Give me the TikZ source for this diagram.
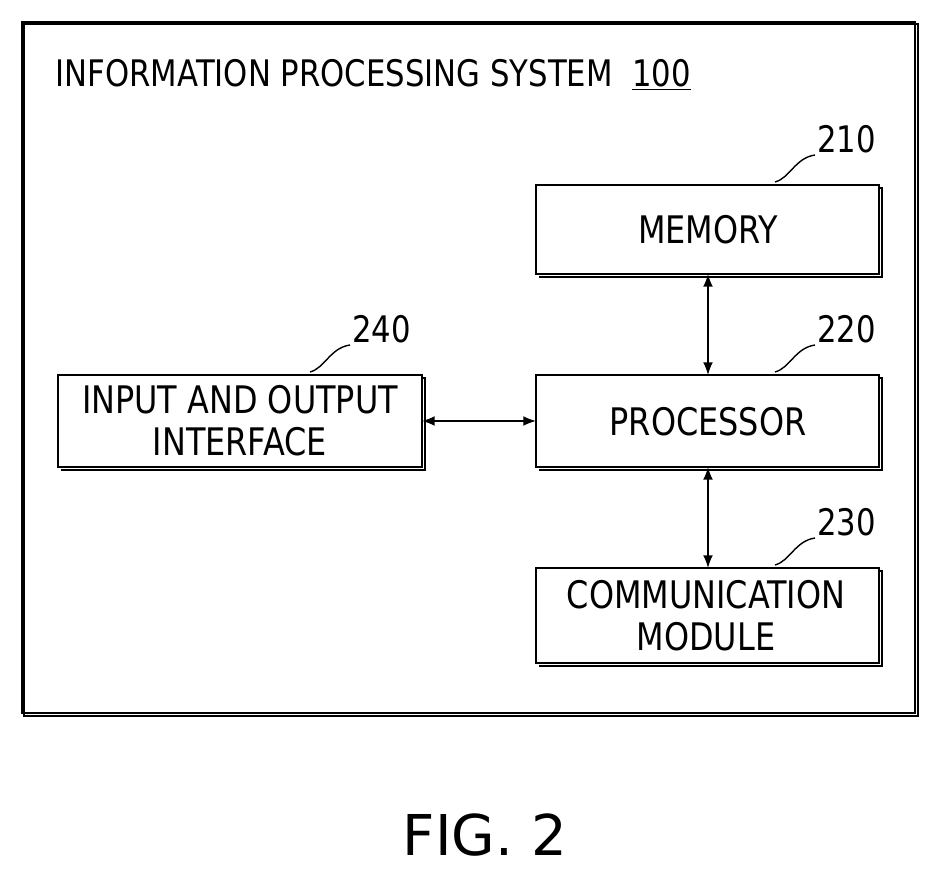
\documentclass[tikz,border=0pt]{standalone}
\usepackage{fontspec}
\usetikzlibrary{arrows.meta}
\setmainfont{DejaVu Sans}
\newfontfamily\narrowfont[FakeStretch=0.84]{DejaVu Sans}
\begin{document}
\begin{tikzpicture}[x=0.025cm, y=-0.025cm, line width=1.1pt,
  shad/.style={line width=2pt},
  lbl/.style={font=\narrowfont\fontsize{27}{30}\selectfont, align=center, inner sep=0pt},
  tag/.style={font=\narrowfont\fontsize{26}{26}\selectfont, anchor=south west, inner sep=1pt},
  lead/.style={line width=1pt}]
        % 背景与外框
        \useasboundingbox (0,0) rectangle (940,880);
        \draw[shad] (24,24) -- (918,24) -- (918,716) -- (24,716) -- cycle;
        \draw (22,22) rectangle (915,713);
        \node[anchor=west, font=\narrowfont\fontsize{26}{26}\selectfont, inner sep=0pt] (title) at (55,75)
          {INFORMATION PROCESSING SYSTEM\ \ \underline{100}};

        % 各模块
        \draw[shad] (539,188) -- (882,188) -- (882,277) -- (539,277);
        \draw[fill=white] (536,185) rectangle (879,274);
        \node[lbl] (mem) at (708,230) {MEMORY};
        \draw[shad] (539,378) -- (882,378) -- (882,470) -- (539,470);
        \draw[fill=white] (536,375) rectangle (879,467);
        \node[lbl] (proc) at (708,422) {PROCESSOR};
        \draw[shad] (539,571) -- (882,571) -- (882,666) -- (539,666);
        \draw[fill=white] (536,568) rectangle (879,663);
        \node[lbl] (comm) at (706,616) {COMMUNICATION\\MODULE};
        \draw[shad] (61,378) -- (425,378) -- (425,470) -- (61,470);
        \draw[fill=white] (58,375) rectangle (422,467);
        \node[lbl] (io) at (240,421) {INPUT AND OUTPUT\\INTERFACE};

        \coordinate (memB) at (708,274);
        \coordinate (procT) at (708,375);
        \coordinate (procB) at (708,467);
        \coordinate (commT) at (708,568);
        \coordinate (ioR) at (422,421);
        \coordinate (procL) at (536,421);

        % 连接
        \draw[{Latex[length=9pt,width=7pt]}-{Latex[length=9pt,width=7pt]}] (memB) -- (procT);
        \draw[{Latex[length=9pt,width=7pt]}-{Latex[length=9pt,width=7pt]}] (procB) -- (commT);
        \draw[{Latex[length=9pt,width=7pt]}-{Latex[length=9pt,width=7pt]}] (ioR) -- (procL);

        % 标号
        \draw[lead] (775,182) .. controls (790,178) and (795,158) .. (815,155) node[tag] (n210) {210};
        \draw[lead] (775,372) .. controls (790,368) and (795,348) .. (815,345) node[tag] (n220) {220};
        \draw[lead] (775,565) .. controls (790,561) and (795,541) .. (815,538) node[tag] (n230) {230};
        \draw[lead] (310,372) .. controls (325,368) and (330,348) .. (350,345) node[tag] (n240) {240};

        \node[font=\fontsize{40}{40}\selectfont] (fig) at (485,835) {FIG. 2};
\end{tikzpicture}
\end{document}
